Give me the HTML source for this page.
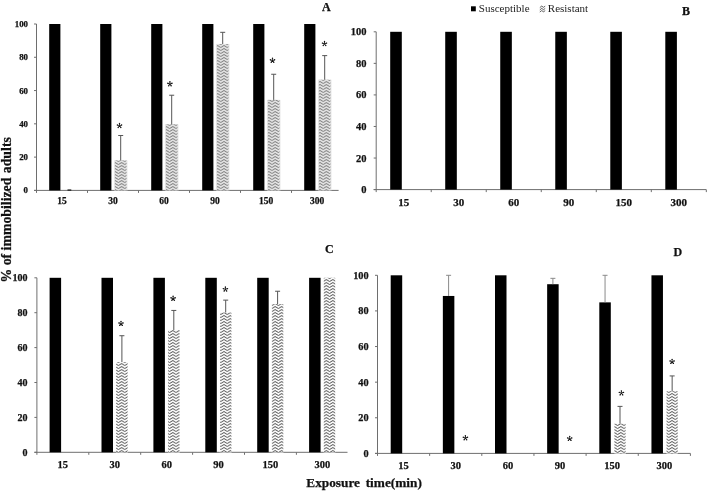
<!DOCTYPE html><html><head><meta charset="utf-8"><style>
html,body{margin:0;padding:0;background:#fff;}
svg{display:block;filter:blur(0.35px);}
text{font-family:"Liberation Serif", serif;fill:#111;}
.yl,.xl,.pl,.tt{stroke:#111;stroke-width:0.25px;}
.yl{font-size:8.6px;font-weight:bold;}
.xl{font-size:9px;font-weight:bold;}
.st{font-size:13px;font-weight:normal;fill:#333;}
.pl{font-size:12px;font-weight:bold;}
.tt{font-size:13.3px;font-weight:bold;}
.lg{font-size:11px;fill:#222;}
</style></head><body>
<svg width="708" height="492" viewBox="0 0 708 492">
<defs>
<pattern id="zzA" width="6.4" height="3" patternUnits="userSpaceOnUse"><rect width="6.4" height="3" fill="#e2e2e2"/><path d="M-0.1,0.45 L3.2,2.55 L6.5,0.45" fill="none" stroke="#707070" stroke-width="0.9"/></pattern>
<pattern id="zzC" width="6.4" height="3" patternUnits="userSpaceOnUse"><rect width="6.4" height="3" fill="#fafafa"/><path d="M-0.1,0.45 L3.2,2.55 L6.5,0.45" fill="none" stroke="#3a3a3a" stroke-width="0.85"/></pattern>
</defs>
<rect width="708" height="492" fill="#fff"/>
<line x1="36.5" y1="24" x2="36.5" y2="192.9" stroke="#6e6e6e" stroke-width="1"/>
<line x1="34" y1="190.4" x2="338.6" y2="190.4" stroke="#6e6e6e" stroke-width="1"/>
<line x1="34" y1="190.4" x2="36.5" y2="190.4" stroke="#6e6e6e" stroke-width="1"/>
<text x="28" y="193.39" text-anchor="end" class="yl" style="font-size:8.8px">0</text>
<line x1="34" y1="157.12" x2="36.5" y2="157.12" stroke="#6e6e6e" stroke-width="1"/>
<text x="28" y="160.11" text-anchor="end" class="yl" style="font-size:8.8px">20</text>
<line x1="34" y1="123.84" x2="36.5" y2="123.84" stroke="#6e6e6e" stroke-width="1"/>
<text x="28" y="126.83" text-anchor="end" class="yl" style="font-size:8.8px">40</text>
<line x1="34" y1="90.56" x2="36.5" y2="90.56" stroke="#6e6e6e" stroke-width="1"/>
<text x="28" y="93.55" text-anchor="end" class="yl" style="font-size:8.8px">60</text>
<line x1="34" y1="57.28" x2="36.5" y2="57.28" stroke="#6e6e6e" stroke-width="1"/>
<text x="28" y="60.27" text-anchor="end" class="yl" style="font-size:8.8px">80</text>
<line x1="34" y1="24" x2="36.5" y2="24" stroke="#6e6e6e" stroke-width="1"/>
<text x="28" y="26.99" text-anchor="end" class="yl" style="font-size:8.8px">100</text>
<line x1="87.5" y1="190.4" x2="87.5" y2="192.9" stroke="#6e6e6e" stroke-width="1"/>
<line x1="138.5" y1="190.4" x2="138.5" y2="192.9" stroke="#6e6e6e" stroke-width="1"/>
<line x1="189.5" y1="190.4" x2="189.5" y2="192.9" stroke="#6e6e6e" stroke-width="1"/>
<line x1="240.5" y1="190.4" x2="240.5" y2="192.9" stroke="#6e6e6e" stroke-width="1"/>
<line x1="291.5" y1="190.4" x2="291.5" y2="192.9" stroke="#6e6e6e" stroke-width="1"/>
<rect x="49.2" y="24" width="11.2" height="166.4" fill="#000"/>
<line x1="67.5" y1="190.1" x2="71.3" y2="190.1" stroke="#222" stroke-width="1.4"/>
<text x="62" y="204" text-anchor="middle" class="xl" style="font-size:9.5px">15</text>
<rect x="100.2" y="24" width="11.2" height="166.4" fill="#000"/>
<rect x="113.9" y="160.45" width="13.6" height="29.95" fill="#e8e8e8"/>
<rect x="114.9" y="160.45" width="11.6" height="29.95" fill="url(#zzA)"/>
<line x1="120.7" y1="135.49" x2="120.7" y2="160.45" stroke="#555" stroke-width="1"/>
<line x1="118.2" y1="135.49" x2="123.2" y2="135.49" stroke="#555" stroke-width="1"/>
<text x="113" y="204" text-anchor="middle" class="xl" style="font-size:9.5px">30</text>
<rect x="151.2" y="24" width="11.2" height="166.4" fill="#000"/>
<rect x="164.9" y="124.34" width="13.6" height="66.06" fill="#e8e8e8"/>
<rect x="165.9" y="124.34" width="11.6" height="66.06" fill="url(#zzA)"/>
<line x1="171.7" y1="95.22" x2="171.7" y2="124.34" stroke="#555" stroke-width="1"/>
<line x1="169.2" y1="95.22" x2="174.2" y2="95.22" stroke="#555" stroke-width="1"/>
<text x="164" y="204" text-anchor="middle" class="xl" style="font-size:9.5px">60</text>
<rect x="202.2" y="24" width="11.2" height="166.4" fill="#000"/>
<rect x="215.9" y="43.97" width="13.6" height="146.43" fill="#e8e8e8"/>
<rect x="216.9" y="43.97" width="11.6" height="146.43" fill="url(#zzA)"/>
<line x1="222.7" y1="32.32" x2="222.7" y2="43.97" stroke="#555" stroke-width="1"/>
<line x1="220.2" y1="32.32" x2="225.2" y2="32.32" stroke="#555" stroke-width="1"/>
<text x="215" y="204" text-anchor="middle" class="xl" style="font-size:9.5px">90</text>
<rect x="253.2" y="24" width="11.2" height="166.4" fill="#000"/>
<rect x="266.9" y="99.88" width="13.6" height="90.52" fill="#e8e8e8"/>
<rect x="267.9" y="99.88" width="11.6" height="90.52" fill="url(#zzA)"/>
<line x1="273.7" y1="74.25" x2="273.7" y2="99.88" stroke="#555" stroke-width="1"/>
<line x1="271.2" y1="74.25" x2="276.2" y2="74.25" stroke="#555" stroke-width="1"/>
<text x="266" y="204" text-anchor="middle" class="xl" style="font-size:9.5px">150</text>
<rect x="304.2" y="24" width="11.2" height="166.4" fill="#000"/>
<rect x="317.9" y="79.74" width="13.6" height="110.66" fill="#e8e8e8"/>
<rect x="318.9" y="79.74" width="11.6" height="110.66" fill="url(#zzA)"/>
<line x1="324.7" y1="55.62" x2="324.7" y2="79.74" stroke="#555" stroke-width="1"/>
<line x1="322.2" y1="55.62" x2="327.2" y2="55.62" stroke="#555" stroke-width="1"/>
<text x="317" y="204" text-anchor="middle" class="xl" style="font-size:9.5px">300</text>
<g><path d="M119.72,125.7L120.1,123.45L118.9,123.45L119.28,125.7ZM119.57,125.91L121.83,125.58L121.45,124.43L119.43,125.49ZM119.32,125.83L120.34,127.87L121.31,127.17L119.68,125.57ZM119.32,125.57L117.69,127.17L118.66,127.87L119.68,125.83ZM119.57,125.49L117.55,124.43L117.17,125.58L119.43,125.91Z" fill="#151515"/><circle cx="119.5" cy="123.45" r="0.68" fill="#151515"/><circle cx="121.64" cy="125" r="0.68" fill="#151515"/><circle cx="120.82" cy="127.52" r="0.68" fill="#151515"/><circle cx="118.18" cy="127.52" r="0.68" fill="#151515"/><circle cx="117.36" cy="125" r="0.68" fill="#151515"/></g>
<g><path d="M170.12,84L170.5,81.75L169.3,81.75L169.68,84ZM169.97,84.21L172.23,83.88L171.85,82.73L169.83,83.79ZM169.72,84.13L170.74,86.17L171.71,85.47L170.08,83.87ZM169.72,83.87L168.09,85.47L169.06,86.17L170.08,84.13ZM169.97,83.79L167.95,82.73L167.57,83.88L169.83,84.21Z" fill="#151515"/><circle cx="169.9" cy="81.75" r="0.68" fill="#151515"/><circle cx="172.04" cy="83.3" r="0.68" fill="#151515"/><circle cx="171.22" cy="85.82" r="0.68" fill="#151515"/><circle cx="168.58" cy="85.82" r="0.68" fill="#151515"/><circle cx="167.76" cy="83.3" r="0.68" fill="#151515"/></g>
<g><path d="M272.72,60.5L273.1,58.25L271.9,58.25L272.28,60.5ZM272.57,60.71L274.83,60.38L274.45,59.23L272.43,60.29ZM272.32,60.63L273.34,62.67L274.31,61.97L272.68,60.37ZM272.32,60.37L270.69,61.97L271.66,62.67L272.68,60.63ZM272.57,60.29L270.55,59.23L270.17,60.38L272.43,60.71Z" fill="#151515"/><circle cx="272.5" cy="58.25" r="0.68" fill="#151515"/><circle cx="274.64" cy="59.8" r="0.68" fill="#151515"/><circle cx="273.82" cy="62.32" r="0.68" fill="#151515"/><circle cx="271.18" cy="62.32" r="0.68" fill="#151515"/><circle cx="270.36" cy="59.8" r="0.68" fill="#151515"/></g>
<g><path d="M324.72,43.8L325.1,41.55L323.9,41.55L324.28,43.8ZM324.57,44.01L326.83,43.68L326.45,42.53L324.43,43.59ZM324.32,43.93L325.34,45.97L326.31,45.27L324.68,43.67ZM324.32,43.67L322.69,45.27L323.66,45.97L324.68,43.93ZM324.57,43.59L322.55,42.53L322.17,43.68L324.43,44.01Z" fill="#151515"/><circle cx="324.5" cy="41.55" r="0.68" fill="#151515"/><circle cx="326.64" cy="43.1" r="0.68" fill="#151515"/><circle cx="325.82" cy="45.62" r="0.68" fill="#151515"/><circle cx="323.18" cy="45.62" r="0.68" fill="#151515"/><circle cx="322.36" cy="43.1" r="0.68" fill="#151515"/></g>
<text x="322" y="11" class="pl">A</text>
<line x1="376.2" y1="31.8" x2="376.2" y2="192.1" stroke="#6e6e6e" stroke-width="1"/>
<line x1="373.7" y1="189.6" x2="706.3" y2="189.6" stroke="#6e6e6e" stroke-width="1"/>
<line x1="373.7" y1="189.6" x2="376.2" y2="189.6" stroke="#6e6e6e" stroke-width="1"/>
<text x="366.6" y="193.17" text-anchor="end" class="yl" style="font-size:10.5px">0</text>
<line x1="373.7" y1="158.04" x2="376.2" y2="158.04" stroke="#6e6e6e" stroke-width="1"/>
<text x="366.6" y="161.61" text-anchor="end" class="yl" style="font-size:10.5px">20</text>
<line x1="373.7" y1="126.48" x2="376.2" y2="126.48" stroke="#6e6e6e" stroke-width="1"/>
<text x="366.6" y="130.05" text-anchor="end" class="yl" style="font-size:10.5px">40</text>
<line x1="373.7" y1="94.92" x2="376.2" y2="94.92" stroke="#6e6e6e" stroke-width="1"/>
<text x="366.6" y="98.49" text-anchor="end" class="yl" style="font-size:10.5px">60</text>
<line x1="373.7" y1="63.36" x2="376.2" y2="63.36" stroke="#6e6e6e" stroke-width="1"/>
<text x="366.6" y="66.93" text-anchor="end" class="yl" style="font-size:10.5px">80</text>
<line x1="373.7" y1="31.8" x2="376.2" y2="31.8" stroke="#6e6e6e" stroke-width="1"/>
<text x="366.6" y="35.37" text-anchor="end" class="yl" style="font-size:10.5px">100</text>
<line x1="431.22" y1="189.6" x2="431.22" y2="192.1" stroke="#6e6e6e" stroke-width="1"/>
<line x1="486.24" y1="189.6" x2="486.24" y2="192.1" stroke="#6e6e6e" stroke-width="1"/>
<line x1="541.26" y1="189.6" x2="541.26" y2="192.1" stroke="#6e6e6e" stroke-width="1"/>
<line x1="596.28" y1="189.6" x2="596.28" y2="192.1" stroke="#6e6e6e" stroke-width="1"/>
<line x1="651.3" y1="189.6" x2="651.3" y2="192.1" stroke="#6e6e6e" stroke-width="1"/>
<line x1="706.32" y1="189.6" x2="706.32" y2="192.1" stroke="#6e6e6e" stroke-width="1"/>
<rect x="390.2" y="31.8" width="11.6" height="157.8" fill="#000"/>
<text x="403.71" y="205.6" text-anchor="middle" class="xl" style="font-size:11px">15</text>
<rect x="445.22" y="31.8" width="11.6" height="157.8" fill="#000"/>
<text x="458.73" y="205.6" text-anchor="middle" class="xl" style="font-size:11px">30</text>
<rect x="500.24" y="31.8" width="11.6" height="157.8" fill="#000"/>
<text x="513.75" y="205.6" text-anchor="middle" class="xl" style="font-size:11px">60</text>
<rect x="555.26" y="31.8" width="11.6" height="157.8" fill="#000"/>
<text x="568.77" y="205.6" text-anchor="middle" class="xl" style="font-size:11px">90</text>
<rect x="610.28" y="31.8" width="11.6" height="157.8" fill="#000"/>
<text x="623.79" y="205.6" text-anchor="middle" class="xl" style="font-size:11px">150</text>
<rect x="665.3" y="31.8" width="11.6" height="157.8" fill="#000"/>
<text x="678.81" y="205.6" text-anchor="middle" class="xl" style="font-size:11px">300</text>
<text x="682" y="14.7" class="pl">B</text>
<line x1="36.9" y1="277.8" x2="36.9" y2="454.8" stroke="#6e6e6e" stroke-width="1"/>
<line x1="34.4" y1="452.3" x2="347.5" y2="452.3" stroke="#6e6e6e" stroke-width="1"/>
<line x1="34.4" y1="452.3" x2="36.9" y2="452.3" stroke="#6e6e6e" stroke-width="1"/>
<text x="27.6" y="455.7" text-anchor="end" class="yl" style="font-size:10px">0</text>
<line x1="34.4" y1="417.4" x2="36.9" y2="417.4" stroke="#6e6e6e" stroke-width="1"/>
<text x="27.6" y="420.8" text-anchor="end" class="yl" style="font-size:10px">20</text>
<line x1="34.4" y1="382.5" x2="36.9" y2="382.5" stroke="#6e6e6e" stroke-width="1"/>
<text x="27.6" y="385.9" text-anchor="end" class="yl" style="font-size:10px">40</text>
<line x1="34.4" y1="347.6" x2="36.9" y2="347.6" stroke="#6e6e6e" stroke-width="1"/>
<text x="27.6" y="351" text-anchor="end" class="yl" style="font-size:10px">60</text>
<line x1="34.4" y1="312.7" x2="36.9" y2="312.7" stroke="#6e6e6e" stroke-width="1"/>
<text x="27.6" y="316.1" text-anchor="end" class="yl" style="font-size:10px">80</text>
<line x1="34.4" y1="277.8" x2="36.9" y2="277.8" stroke="#6e6e6e" stroke-width="1"/>
<text x="27.6" y="281.2" text-anchor="end" class="yl" style="font-size:10px">100</text>
<line x1="88.8" y1="452.3" x2="88.8" y2="454.8" stroke="#6e6e6e" stroke-width="1"/>
<line x1="140.7" y1="452.3" x2="140.7" y2="454.8" stroke="#6e6e6e" stroke-width="1"/>
<line x1="192.6" y1="452.3" x2="192.6" y2="454.8" stroke="#6e6e6e" stroke-width="1"/>
<line x1="244.5" y1="452.3" x2="244.5" y2="454.8" stroke="#6e6e6e" stroke-width="1"/>
<line x1="296.4" y1="452.3" x2="296.4" y2="454.8" stroke="#6e6e6e" stroke-width="1"/>
<rect x="49.6" y="277.8" width="11.5" height="174.5" fill="#000"/>
<text x="62.85" y="467.6" text-anchor="middle" class="xl" style="font-size:10.5px">15</text>
<rect x="101.5" y="277.8" width="11.5" height="174.5" fill="#000"/>
<rect x="115.9" y="362.08" width="12" height="90.22" fill="#fff"/>
<rect x="116.2" y="362.08" width="11.4" height="90.22" fill="url(#zzC)"/>
<line x1="121.9" y1="335.73" x2="121.9" y2="362.08" stroke="#555" stroke-width="1"/>
<line x1="119.4" y1="335.73" x2="124.4" y2="335.73" stroke="#555" stroke-width="1"/>
<text x="114.75" y="467.6" text-anchor="middle" class="xl" style="font-size:10.5px">30</text>
<rect x="153.4" y="277.8" width="11.5" height="174.5" fill="#000"/>
<rect x="167.8" y="329.98" width="12" height="122.32" fill="#fff"/>
<rect x="168.1" y="329.98" width="11.4" height="122.32" fill="url(#zzC)"/>
<line x1="173.8" y1="310.43" x2="173.8" y2="329.98" stroke="#555" stroke-width="1"/>
<line x1="171.3" y1="310.43" x2="176.3" y2="310.43" stroke="#555" stroke-width="1"/>
<text x="166.65" y="467.6" text-anchor="middle" class="xl" style="font-size:10.5px">60</text>
<rect x="205.3" y="277.8" width="11.5" height="174.5" fill="#000"/>
<rect x="219.7" y="312.53" width="12" height="139.77" fill="#fff"/>
<rect x="220" y="312.53" width="11.4" height="139.77" fill="url(#zzC)"/>
<line x1="225.7" y1="300.14" x2="225.7" y2="312.53" stroke="#555" stroke-width="1"/>
<line x1="223.2" y1="300.14" x2="228.2" y2="300.14" stroke="#555" stroke-width="1"/>
<text x="218.55" y="467.6" text-anchor="middle" class="xl" style="font-size:10.5px">90</text>
<rect x="257.2" y="277.8" width="11.5" height="174.5" fill="#000"/>
<rect x="271.6" y="304.15" width="12" height="148.15" fill="#fff"/>
<rect x="271.9" y="304.15" width="11.4" height="148.15" fill="url(#zzC)"/>
<line x1="277.6" y1="291.24" x2="277.6" y2="304.15" stroke="#555" stroke-width="1"/>
<line x1="275.1" y1="291.24" x2="280.1" y2="291.24" stroke="#555" stroke-width="1"/>
<text x="270.45" y="467.6" text-anchor="middle" class="xl" style="font-size:10.5px">150</text>
<rect x="309.1" y="277.8" width="11.5" height="174.5" fill="#000"/>
<rect x="323.5" y="277.8" width="12" height="174.5" fill="#fff"/>
<rect x="323.8" y="277.8" width="11.4" height="174.5" fill="url(#zzC)"/>
<text x="322.35" y="467.6" text-anchor="middle" class="xl" style="font-size:10.5px">300</text>
<g><path d="M121.22,323.6L121.6,321.35L120.4,321.35L120.78,323.6ZM121.07,323.81L123.33,323.48L122.95,322.33L120.93,323.39ZM120.82,323.73L121.84,325.77L122.81,325.07L121.18,323.47ZM120.82,323.47L119.19,325.07L120.16,325.77L121.18,323.73ZM121.07,323.39L119.05,322.33L118.67,323.48L120.93,323.81Z" fill="#151515"/><circle cx="121" cy="321.35" r="0.68" fill="#151515"/><circle cx="123.14" cy="322.9" r="0.68" fill="#151515"/><circle cx="122.32" cy="325.42" r="0.68" fill="#151515"/><circle cx="119.68" cy="325.42" r="0.68" fill="#151515"/><circle cx="118.86" cy="322.9" r="0.68" fill="#151515"/></g>
<g><path d="M173.32,298.5L173.7,296.25L172.5,296.25L172.88,298.5ZM173.17,298.71L175.43,298.38L175.05,297.23L173.03,298.29ZM172.92,298.63L173.94,300.67L174.91,299.97L173.28,298.37ZM172.92,298.37L171.29,299.97L172.26,300.67L173.28,298.63ZM173.17,298.29L171.15,297.23L170.77,298.38L173.03,298.71Z" fill="#151515"/><circle cx="173.1" cy="296.25" r="0.68" fill="#151515"/><circle cx="175.24" cy="297.8" r="0.68" fill="#151515"/><circle cx="174.42" cy="300.32" r="0.68" fill="#151515"/><circle cx="171.78" cy="300.32" r="0.68" fill="#151515"/><circle cx="170.96" cy="297.8" r="0.68" fill="#151515"/></g>
<g><path d="M225.62,289.3L226,287.05L224.8,287.05L225.18,289.3ZM225.47,289.51L227.73,289.18L227.35,288.03L225.33,289.09ZM225.22,289.43L226.24,291.47L227.21,290.77L225.58,289.17ZM225.22,289.17L223.59,290.77L224.56,291.47L225.58,289.43ZM225.47,289.09L223.45,288.03L223.07,289.18L225.33,289.51Z" fill="#151515"/><circle cx="225.4" cy="287.05" r="0.68" fill="#151515"/><circle cx="227.54" cy="288.6" r="0.68" fill="#151515"/><circle cx="226.72" cy="291.12" r="0.68" fill="#151515"/><circle cx="224.08" cy="291.12" r="0.68" fill="#151515"/><circle cx="223.26" cy="288.6" r="0.68" fill="#151515"/></g>
<text x="325" y="252.5" class="pl">C</text>
<line x1="377.5" y1="275.3" x2="377.5" y2="455.9" stroke="#6e6e6e" stroke-width="1"/>
<line x1="375" y1="453.4" x2="690.4" y2="453.4" stroke="#6e6e6e" stroke-width="1"/>
<line x1="375" y1="453.4" x2="377.5" y2="453.4" stroke="#6e6e6e" stroke-width="1"/>
<text x="368.6" y="456.9" text-anchor="end" class="yl" style="font-size:10.3px">0</text>
<line x1="375" y1="417.78" x2="377.5" y2="417.78" stroke="#6e6e6e" stroke-width="1"/>
<text x="368.6" y="421.28" text-anchor="end" class="yl" style="font-size:10.3px">20</text>
<line x1="375" y1="382.16" x2="377.5" y2="382.16" stroke="#6e6e6e" stroke-width="1"/>
<text x="368.6" y="385.66" text-anchor="end" class="yl" style="font-size:10.3px">40</text>
<line x1="375" y1="346.54" x2="377.5" y2="346.54" stroke="#6e6e6e" stroke-width="1"/>
<text x="368.6" y="350.04" text-anchor="end" class="yl" style="font-size:10.3px">60</text>
<line x1="375" y1="310.92" x2="377.5" y2="310.92" stroke="#6e6e6e" stroke-width="1"/>
<text x="368.6" y="314.42" text-anchor="end" class="yl" style="font-size:10.3px">80</text>
<line x1="375" y1="275.3" x2="377.5" y2="275.3" stroke="#6e6e6e" stroke-width="1"/>
<text x="368.6" y="278.8" text-anchor="end" class="yl" style="font-size:10.3px">100</text>
<line x1="429.65" y1="453.4" x2="429.65" y2="455.9" stroke="#6e6e6e" stroke-width="1"/>
<line x1="481.8" y1="453.4" x2="481.8" y2="455.9" stroke="#6e6e6e" stroke-width="1"/>
<line x1="533.95" y1="453.4" x2="533.95" y2="455.9" stroke="#6e6e6e" stroke-width="1"/>
<line x1="586.1" y1="453.4" x2="586.1" y2="455.9" stroke="#6e6e6e" stroke-width="1"/>
<line x1="638.25" y1="453.4" x2="638.25" y2="455.9" stroke="#6e6e6e" stroke-width="1"/>
<line x1="690.4" y1="453.4" x2="690.4" y2="455.9" stroke="#6e6e6e" stroke-width="1"/>
<rect x="390.7" y="275.3" width="11.5" height="178.1" fill="#000"/>
<text x="403.57" y="468.8" text-anchor="middle" class="xl" style="font-size:10.5px">15</text>
<rect x="442.85" y="295.96" width="11.5" height="157.44" fill="#000"/>
<line x1="448.6" y1="275.3" x2="448.6" y2="295.96" stroke="#8a8a8a" stroke-width="1"/>
<line x1="446.1" y1="275.3" x2="451.1" y2="275.3" stroke="#8a8a8a" stroke-width="1"/>
<text x="455.72" y="468.8" text-anchor="middle" class="xl" style="font-size:10.5px">30</text>
<rect x="495" y="275.3" width="11.5" height="178.1" fill="#000"/>
<text x="507.88" y="468.8" text-anchor="middle" class="xl" style="font-size:10.5px">60</text>
<rect x="547.15" y="284.21" width="11.5" height="169.19" fill="#000"/>
<line x1="552.9" y1="278.33" x2="552.9" y2="284.21" stroke="#8a8a8a" stroke-width="1"/>
<line x1="550.4" y1="278.33" x2="555.4" y2="278.33" stroke="#8a8a8a" stroke-width="1"/>
<text x="560.03" y="468.8" text-anchor="middle" class="xl" style="font-size:10.5px">90</text>
<rect x="599.3" y="302.37" width="11.5" height="151.03" fill="#000"/>
<line x1="605.05" y1="275.3" x2="605.05" y2="302.37" stroke="#8a8a8a" stroke-width="1"/>
<line x1="602.55" y1="275.3" x2="607.55" y2="275.3" stroke="#8a8a8a" stroke-width="1"/>
<rect x="614.1" y="423.66" width="11.8" height="29.74" fill="#fff"/>
<rect x="614.4" y="423.66" width="11.2" height="29.74" fill="url(#zzC)"/>
<line x1="620" y1="406.38" x2="620" y2="423.66" stroke="#555" stroke-width="1"/>
<line x1="617.5" y1="406.38" x2="622.5" y2="406.38" stroke="#555" stroke-width="1"/>
<text x="612.18" y="468.8" text-anchor="middle" class="xl" style="font-size:10.5px">150</text>
<rect x="651.45" y="275.3" width="11.5" height="178.1" fill="#000"/>
<rect x="666.25" y="391.24" width="11.8" height="62.16" fill="#fff"/>
<rect x="666.55" y="391.24" width="11.2" height="62.16" fill="url(#zzC)"/>
<line x1="672.15" y1="375.93" x2="672.15" y2="391.24" stroke="#555" stroke-width="1"/>
<line x1="669.65" y1="375.93" x2="674.65" y2="375.93" stroke="#555" stroke-width="1"/>
<text x="664.33" y="468.8" text-anchor="middle" class="xl" style="font-size:10.5px">300</text>
<g><path d="M465.62,438L466,435.75L464.8,435.75L465.18,438ZM465.47,438.21L467.73,437.88L467.35,436.73L465.33,437.79ZM465.22,438.13L466.24,440.17L467.21,439.47L465.58,437.87ZM465.22,437.87L463.59,439.47L464.56,440.17L465.58,438.13ZM465.47,437.79L463.45,436.73L463.07,437.88L465.33,438.21Z" fill="#151515"/><circle cx="465.4" cy="435.75" r="0.68" fill="#151515"/><circle cx="467.54" cy="437.3" r="0.68" fill="#151515"/><circle cx="466.72" cy="439.82" r="0.68" fill="#151515"/><circle cx="464.08" cy="439.82" r="0.68" fill="#151515"/><circle cx="463.26" cy="437.3" r="0.68" fill="#151515"/></g>
<g><path d="M569.92,438.6L570.3,436.35L569.1,436.35L569.48,438.6ZM569.77,438.81L572.03,438.48L571.65,437.33L569.63,438.39ZM569.52,438.73L570.54,440.77L571.51,440.07L569.88,438.47ZM569.52,438.47L567.89,440.07L568.86,440.77L569.88,438.73ZM569.77,438.39L567.75,437.33L567.37,438.48L569.63,438.81Z" fill="#151515"/><circle cx="569.7" cy="436.35" r="0.68" fill="#151515"/><circle cx="571.84" cy="437.9" r="0.68" fill="#151515"/><circle cx="571.02" cy="440.42" r="0.68" fill="#151515"/><circle cx="568.38" cy="440.42" r="0.68" fill="#151515"/><circle cx="567.56" cy="437.9" r="0.68" fill="#151515"/></g>
<g><path d="M621.62,393.1L622,390.85L620.8,390.85L621.18,393.1ZM621.47,393.31L623.73,392.98L623.35,391.83L621.33,392.89ZM621.22,393.23L622.24,395.27L623.21,394.57L621.58,392.97ZM621.22,392.97L619.59,394.57L620.56,395.27L621.58,393.23ZM621.47,392.89L619.45,391.83L619.07,392.98L621.33,393.31Z" fill="#151515"/><circle cx="621.4" cy="390.85" r="0.68" fill="#151515"/><circle cx="623.54" cy="392.4" r="0.68" fill="#151515"/><circle cx="622.72" cy="394.92" r="0.68" fill="#151515"/><circle cx="620.08" cy="394.92" r="0.68" fill="#151515"/><circle cx="619.26" cy="392.4" r="0.68" fill="#151515"/></g>
<g><path d="M672.32,361.6L672.7,359.35L671.5,359.35L671.88,361.6ZM672.17,361.81L674.43,361.48L674.05,360.33L672.03,361.39ZM671.92,361.73L672.94,363.77L673.91,363.07L672.28,361.47ZM671.92,361.47L670.29,363.07L671.26,363.77L672.28,361.73ZM672.17,361.39L670.15,360.33L669.77,361.48L672.03,361.81Z" fill="#151515"/><circle cx="672.1" cy="359.35" r="0.68" fill="#151515"/><circle cx="674.24" cy="360.9" r="0.68" fill="#151515"/><circle cx="673.42" cy="363.42" r="0.68" fill="#151515"/><circle cx="670.78" cy="363.42" r="0.68" fill="#151515"/><circle cx="669.96" cy="360.9" r="0.68" fill="#151515"/></g>
<text x="673.5" y="256" class="pl">D</text>
<rect x="471" y="6.3" width="4.8" height="5" fill="#000"/>
<text x="478.8" y="12" class="lg">Susceptible</text>
<path d="M539.8,7.6 L541.8,6 L543.3,7.4 L545.2,6.2 M539.8,9.9 L541.8,8.3 L543.3,9.7 L545.2,8.5 M539.8,12 L541.8,10.5 L543.3,11.8 L545.2,10.7" fill="none" stroke="#444" stroke-width="0.85"/>
<text x="547.8" y="12" class="lg">Resistant</text>
<text x="306.3" y="486.9" class="tt">Exposure</text>
<text x="365.7" y="486.9" class="tt">time(min)</text>
<text transform="translate(10.8,282.6) rotate(-90)" class="tt" style="font-size:13.8px">% of immobilized</text>
<text transform="translate(10.8,173.2) rotate(-90)" class="tt" style="font-size:13.8px">adults</text>
</svg></body></html>
